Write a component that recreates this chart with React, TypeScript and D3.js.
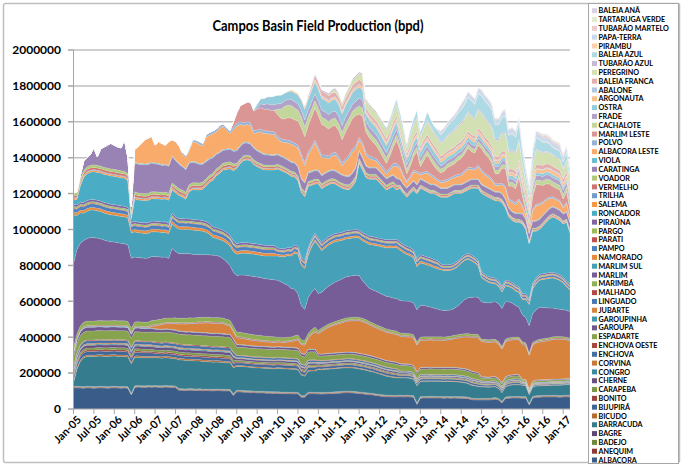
import React from "react";
import * as d3 from "d3";

const rle = (pairs: number[][]): number[] => pairs.flatMap(([v, n]) => Array(n).fill(v));

// values in thousand bpd, monthly Jan-05 .. Mar-17 (147 months)
const ALBACORA = [
  117,118,117,116,118,117,116,117,118,117,116,117,
  118,117,116,117,115,78,120,122,121,120,122,121,
  122,121,120,122,121,120,119,105,104,103,105,104,
  103,104,102,103,102,101,103,102,101,100,101,75,
  96,95,94,93,92,91,90,90,89,88,88,87,
  87,86,86,85,85,84,84,65,66,84,85,85,
  84,83,84,85,86,87,88,89,91,91,90,88,
  86,84,82,80,78,75,72,70,68,68,67,67,
  68,67,68,67,66,25,60,61,61,62,61,61,
  61,60,61,60,61,60,60,59,58,52,50,50,
  50,50,50,52,55,50,33,58,60,61,61,61,
  60,61,22,60,65,66,67,67,67,68,67,66,
  67,68,67];
const ANEQUIM = rle([[4, 147]]);
const BADEJO = rle([[3, 147]]);
const BAGRE = rle([[2, 147]]);
const BARRACUDA = [
  20,93,139,160,165,166,167,168,168,167,168,168,
  168,167,168,167,166,165,158,157,156,156,155,155,
  155,155,154,155,154,153,152,160,160,158,157,156,
  156,155,154,153,152,151,150,150,149,148,147,146,
  132,133,133,132,131,130,130,130,129,129,128,128,
  130,130,129,129,128,128,125,115,108,118,118,118,
  127,127,128,128,129,129,130,130,130,130,130,130,
  128,127,125,122,120,117,114,110,106,103,100,98,
  97,97,96,95,90,95,84,84,84,84,84,84,
  84,84,84,84,83,82,80,78,75,72,70,66,
  64,63,62,62,60,55,49,55,62,64,65,65,
  63,60,49,52,54,54,54,54,55,56,57,58,
  58,59,59];
const BICUDO = rle([[8, 24], [8, 24], [5, 24], [4, 24], [3, 24], [3, 12], [2, 15]]);
const BIJUPIRA = rle([[20, 24], [15, 24], [15, 24], [12, 24], [10, 24], [8, 12], [5, 15]]);
const BONITO = rle([[8, 24], [8, 24], [5, 24], [4, 24], [3, 24], [3, 12], [2, 15]]);
const CARAPEBA = rle([[12, 24], [12, 24], [8, 24], [6, 24], [5, 24], [4, 12], [3, 15]]);
const CHERNE = rle([[15, 24], [15, 24], [10, 24], [8, 24], [6, 24], [5, 12], [3, 15]]);
const CONGRO = rle([[5, 24], [5, 24], [3, 24], [3, 24], [2, 24], [2, 12], [1, 15]]);
const CORVINA = rle([[5, 24], [5, 24], [3, 24], [3, 24], [2, 24], [2, 12], [1, 15]]);
const ENCHOVA = rle([[15, 24], [15, 24], [10, 24], [8, 24], [6, 24], [5, 12], [3, 15]]);
const ENCHOVA_OESTE = rle([[5, 24], [5, 24], [3, 24], [3, 24], [2, 24], [2, 12], [1, 15]]);
const ESPADARTE = rle([[50, 24], [55, 24], [45, 24], [25, 24], [30, 24], [15, 12], [8, 15]]);
const GAROUPA = rle([[20, 24], [15, 24], [12, 24], [10, 24], [8, 24], [6, 12], [4, 15]]);
const GAROUPINHA = rle([[3, 24], [3, 24], [3, 24], [2, 24], [2, 24], [2, 12], [1, 15]]);
const JUBARTE = [
  0,0,0,0,0,0,0,0,0,0,0,0,
  0,0,0,0,0,0,0,0,0,0,0,10,
  15,20,25,28,30,32,35,38,40,42,44,45,
  48,50,52,54,55,55,55,55,55,50,45,40,
  38,36,34,32,30,30,28,27,26,25,25,25,
  25,25,25,28,30,38,45,48,50,60,80,95,
  111,125,135,145,150,156,160,165,170,172,175,178,
  180,178,175,170,165,162,160,158,156,155,154,153,
  152,151,150,150,150,148,150,150,150,150,150,150,
  150,150,152,155,160,165,170,175,180,185,190,192,
  194,194,193,192,192,190,185,194,194,194,194,194,
  194,190,185,200,205,210,212,215,218,220,222,222,
  220,215,211];
const LINGUADO = rle([[3, 147]]);
const MALHADO = rle([[4, 147]]);
const MARIMBA = rle([[25, 60], [20, 12], [12, 48], [8, 27]]);
const MARLIM = [
  467,470,460,456,460,465,465,460,455,450,445,440,
  437,435,432,430,425,390,362,358,358,357,357,357,
  355,350,345,340,332,387,370,360,360,360,358,355,
  352,350,350,348,348,347,346,340,330,320,305,300,
  315,320,322,325,325,324,324,322,320,320,318,317,
  317,310,300,290,271,260,230,190,173,200,210,216,
  205,199,205,210,215,220,222,225,228,230,232,233,
  234,210,195,184,185,186,184,183,182,182,181,181,
  181,180,180,180,178,178,177,175,170,165,160,155,
  150,148,146,146,150,160,175,190,200,205,207,207,
  207,205,205,208,210,211,212,210,200,190,175,166,
  150,141,150,160,170,179,175,170,165,160,155,152,
  150,150,148];
const MARLIM_SUL = [
  270,190,170,152,152,153,153,152,152,151,151,150,
  150,150,150,150,150,140,140,138,138,138,138,138,
  138,138,137,137,137,137,136,136,136,135,135,135,
  134,133,130,125,115,100,95,95,100,105,110,115,
  118,120,122,123,124,125,125,125,126,128,130,132,
  135,140,150,165,180,200,220,225,228,235,250,262,
  266,232,230,230,228,225,220,215,212,210,210,210,
  208,222,235,245,250,255,260,265,270,275,280,285,
  280,270,260,255,250,240,236,232,230,228,226,225,
  224,223,222,221,220,220,220,218,215,205,190,175,
  135,125,115,105,100,95,92,88,85,83,82,82,
  85,100,118,138,145,150,155,160,165,168,165,160,
  150,130,120];
const NAMORADO = rle([[15, 60], [10, 48], [6, 39]]);
const PAMPO = rle([[20, 60], [15, 48], [10, 39]]);
const PARATI = rle([[4, 108], [3, 39]]);
const PARGO = rle([[8, 60], [6, 48], [5, 39]]);
const PIRAUNA = rle([[12, 60], [10, 48], [8, 39]]);
const RONCADOR = [
  25,30,90,140,150,152,155,155,156,156,157,157,
  157,157,156,156,150,20,125,124,124,124,125,125,
  125,125,126,127,128,130,132,130,120,110,150,165,
  167,167,175,200,230,260,290,310,335,350,370,390,
  420,440,457,460,460,440,430,425,420,420,420,420,
  440,435,427,410,400,380,365,360,355,340,300,275,
  300,300,297,291,288,275,260,245,232,228,242,270,
  373,348,317,318,321,324,309,293,277,286,297,275,
  300,283,274,301,334,360,371,366,363,359,367,363,
  372,376,376,385,387,374,356,351,353,372,384,401,
  437,440,442,438,430,446,466,402,356,345,350,359,
  388,358,306,290,261,251,267,284,300,308,304,302,
  295,328,285];
const SALEMA = rle([[8, 48], [6, 48], [5, 51]]);
const TRILHA = rle([[4, 48], [3, 48], [2, 51]]);
const VERMELHO = rle([[12, 48], [8, 48], [5, 51]]);
const VOADOR = rle([[15, 48], [10, 48], [6, 51]]);
const CARATINGA = [
  0,4,19,51,50,62,94,48,95,114,128,143,
  135,129,128,175,89,30,160,160,160,160,160,160,
  155,155,150,150,150,145,140,135,130,125,120,115,
  110,105,100,95,90,85,80,75,72,70,70,70,
  70,70,70,68,66,64,62,60,58,56,55,54,
  52,51,50,50,50,50,50,48,48,48,47,47,
  ...rle([[45, 12], [40, 2], [35, 10], [32, 12], [30, 24], [38, 15]])];
const VIOLA = rle([[0, 18], [5, 78], [4, 51]]);
const ALBACORA_LESTE = [
  0,0,0,0,0,0,0,0,0,0,0,0,
  0,0,0,0,0,0,75,91,113,135,143,144,
  100,121,118,106,133,91,101,96,65,62,64,108,
  110,106,97,132,128,131,121,133,128,107,82,114,
  132,117,94,98,98,77,97,112,113,115,112,113,
  84,78,83,91,97,92,100,117,94,97,122,149,
  109,96,83,68,76,85,72,48,79,101,115,103,
  56,68,56,49,42,34,31,26,21,31,46,66,
  56,41,26,33,46,63,21,36,51,46,33,28,
  28,31,38,38,38,45,48,55,63,53,48,66,
  69,61,59,51,33,33,47,59,39,48,45,69,
  37,17,17,52,82,77,67,62,53,44,44,44,
  30,44,26];
const POLVO = rle([[0, 31], [5, 1], [10, 1], [12, 3], [15, 60], [10, 36], [8, 15]]);
const MARLIM_LESTE = [
  ...rle([[0, 47]]), 30,
  60,90,105,110,115,110,115,120,120,120,120,120,
  120,115,115,125,130,130,135,150,145,145,165,180,
  180,170,160,150,150,150,145,130,150,165,170,170,
  130,145,115,100,85,72,65,55,45,65,90,130,
  95,70,40,55,75,110,35,65,90,75,58,48,
  45,52,65,65,65,78,85,93,110,90,85,112,
  120,108,100,88,56,56,82,100,70,83,80,120,
  50,20,20,70,110,105,90,85,72,58,58,58,
  42,58,36];
const CACHALOTE = rle([[0, 60], [30, 1], [50, 1], [70, 3], [65, 1], [60, 2], [55, 1], [50, 1], [45, 1], [40, 13], [45, 2], [30, 10], [25, 12], [20, 24], [25, 15]]);
const FRADE = rle([[0, 54], [10, 1], [20, 1], [25, 1], [30, 6], [32, 1], [34, 1], [35, 1], [36, 1], [37, 1], [38, 4], [40, 12], [45, 2], [30, 10], [25, 12], [20, 24], [25, 15]]);
const OSTRA = rle([[0, 53], [10, 1], [20, 1], [30, 1], [35, 1], [40, 1], [45, 1], [50, 3], [45, 3], [48, 1], [50, 1], [55, 1], [60, 2], [65, 1], [70, 1], [65, 12], [60, 2], [40, 10], [30, 12], [20, 12], [18, 12], [15, 15]]);
const ARGONAUTA = rle([[0, 64], [10, 20], [12, 24], [15, 24], [20, 15]]);
const ABALONE = rle([[0, 72], [5, 24], [4, 51]]);
const BALEIA_FRANCA = rle([[0, 68], [10, 1], [15, 1], [20, 1], [25, 15], [20, 10], [18, 12], [15, 12], [18, 12], [22, 15]]);
const PEREGRINO = [
  ...rle([[0, 75]]),
  5,10,15,15,15,20,25,28,30,
  35,38,40,42,44,45,45,45,45,50,55,60,
  60,55,30,55,60,70,50,60,75,70,65,65,
  70,75,80,85,90,95,100,100,100,100,95,100,
  100,100,100,100,90,90,95,100,95,100,98,105,
  70,50,40,65,80,75,70,65,62,60,60,60,
  55,60,50];
const TUBARAO_AZUL = rle([[0, 70], [5, 1], [10, 25], [8, 36], [5, 15]]);
const BALEIA_AZUL = [
  ...rle([[0, 91]]),
  5,10,15,20,25,
  30,25,15,28,30,40,25,30,45,40,35,35,
  40,45,50,55,60,65,70,75,80,80,75,85,
  90,90,90,90,80,80,85,90,85,88,86,95,
  60,40,30,50,65,60,55,50,45,40,40,40,
  35,40,30];
const PIRAMBU = rle([[0, 96], [3, 51]]);
const PAPA_TERRA = rle([[0, 107], [5, 1], [15, 6], [25, 33]]);
const TUBARAO_MARTELO = rle([[0, 108], [5, 24], [8, 15]]);
const TARTARUGA_VERDE = rle([[0, 138], [5, 9]]);
const BALEIA_ANA = rle([[0, 120], [3, 27]]);

const SERIES_NAMES = [
  "ALBACORA", "ANEQUIM", "BADEJO", "BAGRE", "BARRACUDA", "BICUDO",
  "BIJUPIRÁ", "BONITO", "CARAPEBA", "CHERNE", "CONGRO", "CORVINA",
  "ENCHOVA", "ENCHOVA OESTE", "ESPADARTE", "GAROUPA", "GAROUPINHA", "JUBARTE",
  "LINGUADO", "MALHADO", "MARIMBÁ", "MARLIM", "MARLIM SUL", "NAMORADO",
  "PAMPO", "PARATI", "PARGO", "PIRAÚNA", "RONCADOR", "SALEMA",
  "TRILHA", "VERMELHO", "VOADOR", "CARATINGA", "VIOLA", "ALBACORA LESTE",
  "POLVO", "MARLIM LESTE", "CACHALOTE", "FRADE", "OSTRA", "ARGONAUTA",
  "ABALONE", "BALEIA FRANCA", "PEREGRINO", "TUBARÃO AZUL", "BALEIA AZUL", "PIRAMBU",
  "PAPA-TERRA", "TUBARÃO MARTELO", "TARTARUGA VERDE", "BALEIA ANÃ",
];
const SERIES_VALUES = [
  ALBACORA, ANEQUIM, BADEJO, BAGRE, BARRACUDA, BICUDO,
  BIJUPIRA, BONITO, CARAPEBA, CHERNE, CONGRO, CORVINA,
  ENCHOVA, ENCHOVA_OESTE, ESPADARTE, GAROUPA, GAROUPINHA, JUBARTE,
  LINGUADO, MALHADO, MARIMBA, MARLIM, MARLIM_SUL, NAMORADO,
  PAMPO, PARATI, PARGO, PIRAUNA, RONCADOR, SALEMA,
  TRILHA, VERMELHO, VOADOR, CARATINGA, VIOLA, ALBACORA_LESTE,
  POLVO, MARLIM_LESTE, CACHALOTE, FRADE, OSTRA, ARGONAUTA,
  ABALONE, BALEIA_FRANCA, PEREGRINO, TUBARAO_AZUL, BALEIA_AZUL, PIRAMBU,
  PAPA_TERRA, TUBARAO_MARTELO, TARTARUGA_VERDE, BALEIA_ANA,
];

const TICK_LABELS = [
  "Jan-05", "Jul-05", "Jan-06", "Jul-06", "Jan-07", "Jul-07", "Jan-08", "Jul-08",
  "Jan-09", "Jul-09", "Jan-10", "Jul-10", "Jan-11", "Jul-11", "Jan-12", "Jul-12",
  "Jan-13", "Jul-13", "Jan-14", "Jul-14", "Jan-15", "Jul-15", "Jan-16", "Jul-16", "Jan-17",
];
const Y_TICKS = [0, 200000, 400000, 600000, 800000, 1000000, 1200000, 1400000, 1600000, 1800000, 2000000];

const ACCENTS = ["#4F81BD", "#C0504D", "#9BBB59", "#8064A2", "#4BACC6", "#F79646"];
const SHADES = [-0.28, -0.2, -0.13, -0.07, 0, 0.2, 0.4, 0.55, 0.7];
function colorFor(i: number): string {
  const b = d3.rgb(ACCENTS[i % 6]);
  const s = SHADES[Math.floor(i / 6)];
  if (s < 0) return d3.rgb(b.r * (1 + s), b.g * (1 + s), b.b * (1 + s)).formatHex();
  return d3.rgb(b.r + (255 - b.r) * s, b.g + (255 - b.g) * s, b.b + (255 - b.b) * s).formatHex();
}

const FONT = "Lato, 'Liberation Sans', Arial, sans-serif";

export default function App() {
  const W = 682, H = 467;
  const left = 73.5, right = 570, top = 50, bottom = 409;
  const n = ALBACORA.length;
  const x = d3.scaleLinear().domain([0, n - 1]).range([left, right]);
  const y = d3.scaleLinear().domain([0, 2000000]).range([bottom, top]);

  const rows = d3.range(n).map((i) => {
    const r: Record<string, number> = { i };
    SERIES_NAMES.forEach((name, k) => { r[name] = (SERIES_VALUES[k][i] || 0) * 1000; });
    return r;
  });
  const stack = d3.stack<Record<string, number>>().keys(SERIES_NAMES);
  const layers = stack(rows);
  const area = d3.area<d3.SeriesPoint<Record<string, number>>>()
    .x((d) => x(d.data.i))
    .y0((d) => y(d[0]))
    .y1((d) => y(d[1]));

  const legendTop = 10.7, legendStep = 8.81;

  return (
    <svg width={W} height={H} style={{ position: "absolute", left: 0, top: 0, background: "#fff" }}>
      <rect x={3.5} y={3.5} width={676} height={459} fill="#fff" stroke="#bfbfbf" strokeWidth={1.5} rx={2} />
      <text x={318} y={31} textAnchor="middle" fontFamily={FONT} fontWeight="bold" fontSize={16}
        textLength={211} lengthAdjust="spacingAndGlyphs" fill="#000">
        Campos Basin Field Production (bpd)
      </text>
      {Y_TICKS.map((t) => (
        <g key={t}>
          {t > 0 && <line x1={68} x2={right} y1={y(t)} y2={y(t)} stroke="#bfbfbf" strokeWidth={1.5} />}
          <line x1={68} x2={left} y1={y(t)} y2={y(t)} stroke="#a6a6a6" strokeWidth={1} />
          <text x={61} y={y(t) + 4.3} textAnchor="end" fontFamily={FONT} fontWeight="bold" fontSize={12} fill="#000">
            {t}
          </text>
        </g>
      ))}
      {layers.map((layer, k) => (
        <path key={SERIES_NAMES[k]} d={area(layer) || ""} fill={colorFor(k)}
          stroke="#ffffff" strokeOpacity={0.25} strokeWidth={0.5} />
      ))}
      <line x1={left} x2={left} y1={top} y2={bottom} stroke="#a6a6a6" strokeWidth={1} />
      <line x1={68} x2={right} y1={bottom} y2={bottom} stroke="#a6a6a6" strokeWidth={1} />
      {TICK_LABELS.map((lab, j) => {
        const tx = x(j * 6);
        return (
          <g key={lab}>
            <line x1={tx} x2={tx} y1={bottom} y2={bottom + 5} stroke="#a6a6a6" strokeWidth={1} />
            <text transform={`translate(${tx + 3},${bottom + 6}) rotate(-45)`} textAnchor="end" dy="0.7em"
              fontFamily={FONT} fontWeight="bold" fontSize={11} fill="#000">{lab}</text>
          </g>
        );
      })}
      <rect x={588.5} y={3.5} width={90} height={460} fill="#fff" stroke="#a6a6a6" strokeWidth={1} />
      {SERIES_NAMES.map((name, k) => {
        const idx = SERIES_NAMES.length - 1 - k;
        const nm = SERIES_NAMES[idx];
        const cy = legendTop + k * legendStep;
        return (
          <g key={nm}>
            <rect x={592} y={cy - 2.5} width={5} height={5} fill={colorFor(idx)} />
            <text x={598.5} y={cy + 2.6} fontFamily={FONT} fontWeight="bold" fontSize={7.2} fill="#000">{nm}</text>
          </g>
        );
      })}
    </svg>
  );
}
